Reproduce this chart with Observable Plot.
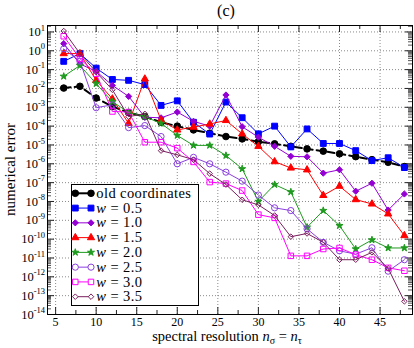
<!DOCTYPE html>
<html><head><meta charset="utf-8">
<script src="https://cdn.jsdelivr.net/npm/d3@7"></script>
<script src="https://cdn.jsdelivr.net/npm/@observablehq/plot@0.6"></script>
<style>body{margin:0;background:#fff}</style>
</head><body><div id="chart"></div>
<script>
// ---------- data ----------
const resolution = [6,8,10,12,14,16,18,20,22,24,26,28,30,32,34,36,38,40,42,44,46,48];
const oldCoordinates = [1.05e-2,1.3e-2,3.1e-3,1.1e-3,5.2e-4,3.2e-4,1.6e-4,1.0e-4,6.3e-5,4.2e-5,2.8e-5,2.1e-5,1.5e-5,1.15e-5,8.5e-6,6.2e-6,4.7e-6,3.4e-6,2.4e-6,1.66e-6,1.2e-6,7.1e-7];
const w05 = [0.275,0.71,0.12,3.0e-2,2.7e-2,1.6e-2,1.26e-3,2.2e-3,1.6e-4,3.8e-5,1.9e-3,2.8e-4,3.9e-5,1.0e-4,7.9e-6,7.1e-5,1.2e-5,1.2e-5,5.0e-6,1.48e-6,2.1e-6,6.3e-7];
const w10 = [2.4,0.2,8.1e-2,1.45e-2,3.8e-3,3.0e-4,2.75e-4,5.6e-4,1.8e-4,1.0e-4,4.5e-3,9.3e-5,2.6e-5,8.5e-6,2.5e-6,2.35e-6,3.2e-7,4.8e-7,3.5e-8,9.3e-8,3.5e-9,2.5e-8];
const w15 = [0.71,0.71,2.7e-2,2.8e-3,1.4e-4,3.2e-2,2.1e-4,6.3e-5,8.9e-5,1.3e-4,2.0e-4,3.9e-5,8.5e-6,1.3e-6,6.0e-7,4.8e-7,2.1e-8,6.5e-8,1.26e-8,7.4e-9,2.2e-9,1.55e-10];
const w20 = [4.4e-2,0.166,1.8e-2,2.0e-3,5.4e-4,3.2e-4,1.4e-4,3.2e-5,9.5e-6,9.5e-6,2.75e-6,5.4e-7,1.0e-8,7.9e-8,3.2e-8,4.3e-10,3.3e-9,5.2e-10,3.0e-11,9.1e-11,3.4e-11,3.4e-11];
const w25 = [1.26,0.28,9.5e-4,1.35e-3,8.3e-5,1.07e-4,2.8e-5,1.0e-6,2.2e-6,1.0e-6,3.6e-7,1.2e-7,2.2e-8,4.6e-9,3.3e-9,3.5e-10,6.8e-11,2.4e-11,1.6e-11,3.5e-11,2.0e-12,8.1e-12];
const w30 = [5.9,0.38,6.0e-2,6.0e-4,5.6e-4,1.4e-5,1.4e-5,6.8e-6,1.26e-6,1.07e-7,8.9e-8,3.8e-8,2.0e-9,1.35e-9,1.3e-11,1.3e-11,3.0e-11,3.4e-11,1.5e-11,8.1e-12,3.0e-12,2.1e-12];
const w35 = [11.2,0.71,7.4e-2,8.5e-3,3.2e-4,4.5e-4,5.0e-6,3.0e-6,1.66e-6,3.0e-7,7.9e-8,1.23e-8,6.6e-9,1.8e-9,1.35e-10,2.0e-10,6.8e-11,8.1e-12,8.1e-12,2.0e-11,2.8e-12,5.0e-14];
const seriesLabels = ["old coordinates","0.5","1.0","1.5","2.0","2.5","3.0","3.5"];
const seriesValues = [oldCoordinates,w05,w10,w15,w20,w25,w30,w35];
const xTicks = [5,10,15,20,25,30,35,40,45];
const xMinorTicks = [7.5,12.5,17.5,22.5,27.5,32.5,37.5,42.5,47.5];
const yExponents = [-14,-13,-12,-11,-10,-9,-8,-7,-6,-5,-4,-3,-2,-1,0,1];
const titleText = "(c)";
const yLabel = "numerical error";

// ---------- styles ----------
const W = 414, H = 348;
const M = {top: 25, right: 2, bottom: 34, left: 47};
const frameW = W - M.left - M.right;
const frameH = H - M.top - M.bottom;
const FONT = "'Liberation Serif','Times New Roman',serif";
const styles = [
  {color:"#000000", symbol:"circle",   filled:true,  r:3.3, lw:2, dash:"7,4"},
  {color:"#0000ff", symbol:"square",   filled:true,  r:3.3, lw:1},
  {color:"#9400d3", symbol:"diamond2", filled:true,  r:2.8, lw:1},
  {color:"#ff0000", symbol:"triangle", filled:true,  r:2.7, lw:1},
  {color:"#1f9a1f", symbol:"star",     filled:true,  r:2.2, lw:1},
  {color:"#8a3fe0", symbol:"circle",   filled:false, r:3.1, lw:1},
  {color:"#ff00ff", symbol:"square",   filled:false, r:3.1, lw:1},
  {color:"#7b1f5e", symbol:"diamond2", filled:false, r:2.5, lw:1}
];
const d3Symbols = {circle:d3.symbolCircle, square:d3.symbolSquare, diamond2:d3.symbolDiamond2, triangle:d3.symbolTriangle, star:d3.symbolStar};

const decades = yExponents.map(e => Math.pow(10, e));
const minorY = [];
for (const e of yExponents) for (let m = 2; m <= 9; m++) { const v = m * Math.pow(10, e); if (v <= 22) minorY.push(v); }

const rows = seriesValues.map((vals, s) => resolution.map((n, i) => ({n, err: vals[i], s})));

const gridStyle = {stroke:"#8a8a8a", strokeOpacity:1, strokeWidth:1, strokeDasharray:"1,2"};

function decorations(index, scales, values, dims) {
  const g = d3.create("svg:g").attr("font-family", FONT).attr("fill", "black").attr("text-anchor", "start");
  // y tick labels 10^k
  for (const e of yExponents) {
    const y = scales.y(Math.pow(10, e));
    const t = g.append("text").attr("x", dims.marginLeft - 2).attr("y", y + 4.6)
      .attr("text-anchor", "end").attr("font-size", 12.5);
    t.append("tspan").text("10");
    t.append("tspan").attr("dy", -5.5).attr("font-size", 8.5).text(String(e));
  }
  // title
  g.append("text").attr("x", 226).attr("y", 16).attr("text-anchor", "middle")
    .attr("font-size", 16).text(titleText);
  // y label
  g.append("text").attr("transform", `translate(15,${dims.marginTop + (dims.height - dims.marginTop - dims.marginBottom) / 2}) rotate(-90)`)
    .attr("text-anchor", "middle").attr("font-size", 15).text(yLabel);
  // x label
  const xl = g.append("text").attr("x", 227).attr("y", 340.5).attr("text-anchor", "middle").attr("font-size", 14.5);
  xl.append("tspan").text("spectral resolution ");
  xl.append("tspan").attr("font-style", "italic").text("n");
  xl.append("tspan").attr("font-size", 10).attr("dy", 3).text("σ");
  xl.append("tspan").attr("dy", -3).text(" = ");
  xl.append("tspan").attr("font-style", "italic").text("n");
  xl.append("tspan").attr("font-size", 10).attr("dy", 3).text("τ");
  // legend
  const bx = dims.marginLeft + 24, bw = 127, bh = 121;
  const by = dims.height - dims.marginBottom - 9 - bh;
  g.append("rect").attr("x", bx + 0.5).attr("y", by + 0.5).attr("width", bw).attr("height", bh)
    .attr("fill", "white").attr("stroke", "black").attr("stroke-width", 1);
  seriesLabels.forEach((lab, i) => {
    const st = styles[i];
    const yy = by + 9.3 + i * 14.77;
    const x1 = bx + 4.3, x2 = bx + 20;
    g.append("line").attr("x1", x1).attr("x2", x2).attr("y1", yy).attr("y2", yy)
      .attr("stroke", st.color).attr("stroke-width", st.lw);
    for (const xx of [x1, x2]) {
      g.append("path").attr("transform", `translate(${xx},${yy})`)
        .attr("d", d3.symbol(d3Symbols[st.symbol], Math.PI * st.r * st.r)())
        .attr("fill", st.filled ? st.color : "white").attr("stroke", st.color).attr("stroke-width", 1);
    }
    const t = g.append("text").attr("x", bx + 25.3).attr("y", yy + 4.6)
      .attr("text-anchor", "start").attr("font-size", 14.5).attr("letter-spacing", 0.4);
    if (i === 0) t.text(lab);
    else { t.append("tspan").attr("font-style", "italic").text("w"); t.append("tspan").text(" = " + lab); }
  });
  return g.node();
}

const marks = [
  Plot.gridX(xTicks, gridStyle),
  Plot.gridY(decades.slice(1), gridStyle),
  // y ticks, inward, both sides
  Plot.ruleY(decades, {y: d => d, insetRight: frameW - 7, stroke:"#222"}),
  Plot.ruleY(decades, {y: d => d, insetLeft: frameW - 7, stroke:"#222"}),
  Plot.ruleY(minorY, {y: d => d, insetRight: frameW - 4, stroke:"#555"}),
  Plot.ruleY(minorY, {y: d => d, insetLeft: frameW - 4, stroke:"#555"}),
  // x ticks, inward, both sides
  Plot.ruleX(xTicks, {x: d => d, insetTop: frameH - 7, stroke:"#222"}),
  Plot.ruleX(xTicks, {x: d => d, insetBottom: frameH - 7, stroke:"#222"}),
  Plot.ruleX(xMinorTicks, {x: d => d, insetTop: frameH - 4, stroke:"#222"}),
  Plot.ruleX(xMinorTicks, {x: d => d, insetBottom: frameH - 4, stroke:"#222"}),
];
rows.forEach((data, s) => {
  const st = styles[s];
  marks.push(Plot.line(data, {x:"n", y:"err", stroke: st.color, strokeWidth: st.lw, strokeDasharray: st.dash}));
  marks.push(Plot.dot(data, {x:"n", y:"err", symbol: st.symbol, r: st.r,
    fill: st.filled ? st.color : "none", stroke: st.color, strokeWidth: 1}));
});
marks.push(Plot.frame({stroke:"black", strokeWidth:1}));
marks.push(Plot.axisX(xTicks, {tickSize: 0, tickPadding: 3, fontSize: 12, label: null}));
marks.push(decorations);

const chart = Plot.plot({
  width: W, height: H,
  marginTop: M.top, marginRight: M.right, marginBottom: M.bottom, marginLeft: M.left,
  style: {fontFamily: FONT, fontSize: "12px", background: "white", color: "black"},
  x: {domain: [4, 49]},
  y: {type: "log", domain: [1e-14, 22], axis: null},
  marks
});
document.getElementById("chart").appendChild(chart);
</script>
</body></html>
